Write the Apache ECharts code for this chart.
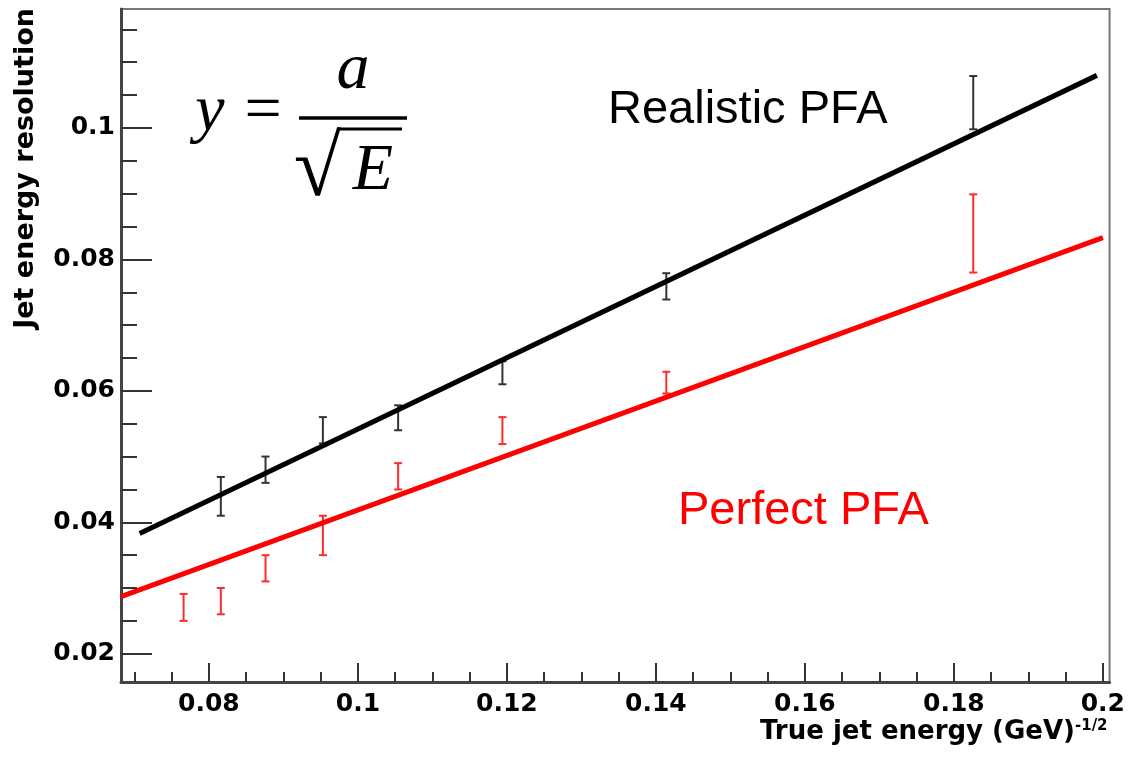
<!DOCTYPE html>
<html>
<head>
<meta charset="utf-8">
<title>Jet energy resolution</title>
<script src="https://cdn.jsdelivr.net/npm/echarts@6.0.0/dist/echarts.min.js"></script>
<style>
    html, body { margin: 0; padding: 0; background: #fff; }
    #chart { width: 1128px; height: 760px; }
</style>
</head>
<body>
<div id="chart"></div>
<script>
// tick labels
var xTicks = [0.08, 0.1, 0.12, 0.14, 0.16, 0.18, 0.2]
var yTicks = [0.02, 0.04, 0.06, 0.08, 0.1]

// realistic PFA points (error bars)
var realX = [0.0816, 0.0876, 0.0953, 0.1054, 0.1194, 0.1414, 0.1826]
var realLow = [0.0410, 0.0460, 0.0520, 0.0540, 0.0610, 0.0739, 0.0998]
var realHigh = [0.0469, 0.0500, 0.0560, 0.0578, 0.0645, 0.0779, 0.1079]

// perfect PFA points
var perfX = [0.0766, 0.0816, 0.0876, 0.0953, 0.1054, 0.1194, 0.1414, 0.1826]
var perfLow = [0.0250, 0.0260, 0.0310, 0.0350, 0.0450, 0.0519, 0.0596, 0.0780]
var perfHigh = [0.0291, 0.0300, 0.0350, 0.0410, 0.0490, 0.0560, 0.0629, 0.0899]

// fitted lines y = a / sqrt(E), end points
var realFitX = [0.0707, 0.1992]
var realFitY = [0.0383, 0.1080]
var perfFitX = [0.0682, 0.2000]
var perfFitY = [0.0287, 0.0833]

var X_MIN = 0.0682, X_MAX = 0.2009
var Y_MIN = 0.0157, Y_MAX = 0.1181

var minorTicks = function (from, to, step) {
    var res = []
    for (var v = from; v <= to + 1e-9; v += step) {
        res.push(+v.toFixed(4))
    }
    return res
}

var zip = function () {
    var cols = Array.prototype.slice.call(arguments)
    var res = []
    for (var i = 0; i < cols[0].length; i++) {
        res.push(cols.map(function (c) { return c[i] }))
    }
    return res
}

var errorBar = function (color) {
    return function (params, api) {
        var x = api.value(0)
        var top = api.coord([x, api.value(2)])
        var bot = api.coord([x, api.value(1)])
        var w = 4
        var style = { stroke: color, lineWidth: 2 }
        return {
            type: 'group',
            children: [
                { type: 'line', shape: { x1: top[0], y1: top[1], x2: bot[0], y2: bot[1] }, style: style },
                { type: 'line', shape: { x1: top[0] - w, y1: top[1], x2: top[0] + w, y2: top[1] }, style: style },
                { type: 'line', shape: { x1: bot[0] - w, y1: bot[1], x2: bot[0] + w, y2: bot[1] }, style: style }
            ]
        }
    }
}

var labelFont = {
    color: '#000',
    fontFamily: 'DejaVu Sans',
    fontWeight: 'bold',
    fontSize: 25,
    formatter: function (v) { return String(+v.toFixed(3)) }
}

var chart = echarts.init(document.getElementById('chart'))

var option = {
    animation: false,
    backgroundColor: '#fff',
    grid: {
        left: 121, right: 14, top: 9, bottom: 78,
        show: true, borderColor: '#777', borderWidth: 2
    },
    xAxis: [
        {
            type: 'value', min: X_MIN, max: X_MAX, position: 'bottom',
            axisLine: { onZero: false, lineStyle: { color: '#444', width: 3 } },
            axisTick: { inside: true, length: 19, customValues: xTicks, lineStyle: { color: '#333', width: 2 } },
            axisLabel: Object.assign({ customValues: xTicks, margin: 10 }, labelFont),
            splitLine: { show: false },
            name: '{a|True jet energy (GeV)}{b|-1/2}',
            nameLocation: 'end',
            nameGap: -2,
            nameMoveOverlap: false,
            nameTextStyle: {
                align: 'right',
                verticalAlign: 'top',
                padding: [37, 0, 0, 0],
                rich: {
                    a: { fontFamily: 'DejaVu Sans', fontWeight: 'bold', fontSize: 26, color: '#000', verticalAlign: 'bottom' },
                    b: { fontFamily: 'DejaVu Sans', fontWeight: 'bold', fontSize: 15, color: '#000', verticalAlign: 'top' }
                }
            }
        },
        {
            type: 'value', min: X_MIN, max: X_MAX, position: 'bottom',
            axisLine: { show: false },
            axisTick: { inside: true, length: 10, customValues: minorTicks(0.07, 0.2, 0.005), lineStyle: { color: '#333', width: 2 } },
            axisLabel: { show: false },
            splitLine: { show: false }
        }
    ],
    yAxis: [
        {
            type: 'value', min: Y_MIN, max: Y_MAX, position: 'left',
            axisLine: { onZero: false, lineStyle: { color: '#444', width: 3 } },
            axisTick: { inside: true, length: 31, customValues: yTicks, lineStyle: { color: '#333', width: 2 } },
            axisLabel: Object.assign({ customValues: yTicks, margin: 6 }, labelFont),
            splitLine: { show: false }
        },
        {
            type: 'value', min: Y_MIN, max: Y_MAX, position: 'left',
            axisLine: { show: false },
            axisTick: { inside: true, length: 16, customValues: minorTicks(0.02, 0.115, 0.005), lineStyle: { color: '#333', width: 2 } },
            axisLabel: { show: false },
            splitLine: { show: false }
        }
    ],
    series: [
        {
            name: 'Perfect PFA errors', type: 'custom',
            renderItem: errorBar('#ff2b2b'),
            encode: { x: 0, y: [1, 2] },
            data: zip(perfX, perfLow, perfHigh)
        },
        {
            name: 'Realistic PFA errors', type: 'custom',
            renderItem: errorBar('#333'),
            encode: { x: 0, y: [1, 2] },
            data: zip(realX, realLow, realHigh)
        },
        {
            name: 'Perfect PFA', type: 'line', symbol: 'none',
            lineStyle: { color: '#ff0000', width: 5 },
            data: zip(perfFitX, perfFitY)
        },
        {
            name: 'Realistic PFA', type: 'line', symbol: 'none',
            lineStyle: { color: '#000', width: 5 },
            data: zip(realFitX, realFitY)
        }
    ],
    graphic: [
        {
            type: 'text', x: 12, y: 8, rotation: Math.PI / 2,
            style: { text: 'Jet energy resolution', font: 'bold 27px "DejaVu Sans"', fill: '#000', align: 'right', verticalAlign: 'top' }
        },
        // the formula y = a / sqrt(E)
        { type: 'text', x: 210, y: 113, style: { text: 'y', font: 'italic 66px "Liberation Serif"', fill: '#000', align: 'center', verticalAlign: 'middle' } },
        { type: 'text', x: 263, y: 113, style: { text: '=', font: '66px "Liberation Serif"', fill: '#000', align: 'center', verticalAlign: 'middle' } },
        { type: 'text', x: 353, y: 71, style: { text: 'a', font: 'italic 66px "Liberation Serif"', fill: '#000', align: 'center', verticalAlign: 'middle' } },
        { type: 'line', shape: { x1: 299, y1: 118, x2: 407, y2: 118 }, style: { stroke: '#000', lineWidth: 3.5 } },
        { type: 'text', x: 341, y: 172, style: { text: '√', font: '86px "Liberation Serif"', fill: '#000', align: 'right', verticalAlign: 'middle' } },
        { type: 'line', shape: { x1: 337, y1: 129, x2: 402, y2: 129 }, style: { stroke: '#000', lineWidth: 3 } },
        { type: 'text', x: 373, y: 172, style: { text: 'E', font: 'italic 66px "Liberation Serif"', fill: '#000', align: 'center', verticalAlign: 'middle' } },
        { type: 'text', x: 608, y: 110, style: { text: 'Realistic PFA', font: '47px "Liberation Sans"', fill: '#000', align: 'left', verticalAlign: 'middle' } },
        { type: 'text', x: 678, y: 511, style: { text: 'Perfect PFA', font: '47px "Liberation Sans"', fill: '#ff0000', align: 'left', verticalAlign: 'middle' } }
    ]
}

chart.setOption(option)
</script>
</body>
</html>
